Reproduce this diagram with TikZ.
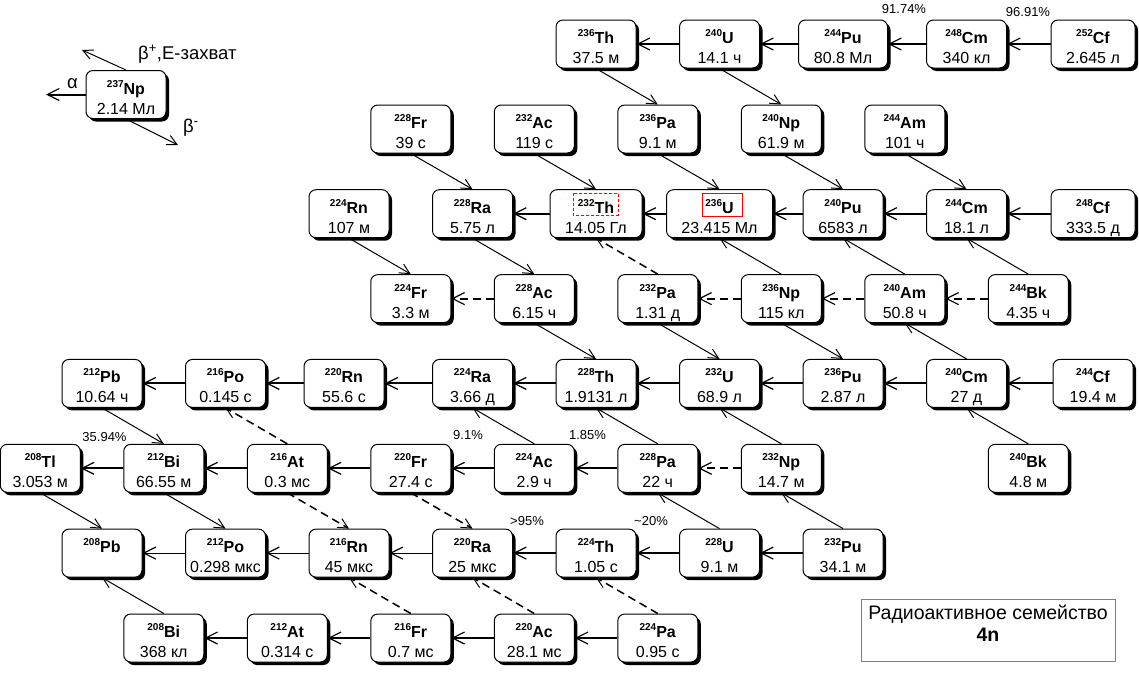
\documentclass[tikz,border=0pt]{standalone}
\usepackage{fontspec}
\setmainfont{Liberation Sans}
\usetikzlibrary{arrows.meta,shadows}

\newcommand{\twolines}[2]{\vtop{\halign{\hfil##\hfil\cr#1\cr#2\cr}}}
\newcommand{\nuc}[3]{\twolines{{\fontsize{10}{12}\selectfont\bfseries\raisebox{7pt}{#1}}\textbf{#2}}{#3}}

\tikzset{
  nucbox/.style={draw, line width=1pt, rounded corners=7pt, fill=white,
    minimum width=80pt, inner sep=0pt, text height=23.5pt, text depth=24.5pt,
    font=\fontsize{16}{20}\selectfont,
    drop shadow={shadow xshift=3pt, shadow yshift=-3pt, fill=black, opacity=1}},
  alphaarrow/.style={line width=2pt, -{Straight Barb[length=12pt, width=12pt, line width'=1.2pt]}},
  alphathin/.style={alphaarrow, line width=1.2pt},
  alphadashed/.style={alphaarrow, dash pattern=on 8pt off 5pt},
  betaarrow/.style={line width=1pt, -{Straight Barb[length=10pt, width=10pt, line width'=1pt]}},
  betadashed/.style={betaarrow, line width=1.5pt, dash pattern=on 8pt off 5pt},
  pct/.style={font=\fontsize{13}{15}\selectfont, inner sep=0pt},
  lbl/.style={font=\fontsize{18.5}{20}\selectfont, inner sep=0pt}
}

\begin{document}
\begin{tikzpicture}[x=1pt,y=-1pt]
   \useasboundingbox (0,0) rectangle (1139,673);
   % legend
   \node[nucbox] (np237) at (126,94.5) {\nuc{237}{Np}{2.14 Мл}};
   \coordinate (alphaend) at (46,94.5);
   \coordinate (bplusend) at (82,50);
   \coordinate (bminusend) at (178,145);
   \draw[alphaarrow] (np237.west) -- (alphaend);
   \draw[betaarrow] (np237.north) -- (bplusend);
   \draw[betaarrow] (np237.south) -- (bminusend);
   \node[lbl, anchor=base] (alphalbl) at (72.5,88) {α};
   \node[lbl, anchor=base west] (bpluslbl) at (138,59) {β\textsuperscript{+},Е-захват};
   \node[lbl, anchor=base west] (bminuslbl) at (183,132) {β\textsuperscript{-}};
   % row 0
   \node[nucbox] (th236) at (596,44) {\nuc{236}{Th}{37.5 м}};
   \node[nucbox] (u240) at (719.5,44) {\nuc{240}{U}{14.1 ч}};
   \node[nucbox, minimum width=89pt] (pu244) at (843,44) {\nuc{244}{Pu}{80.8 Мл}};
   \node[nucbox] (cm248) at (966.5,44) {\nuc{248}{Cm}{340 кл}};
   \node[nucbox, minimum width=84pt] (cf252) at (1093,44) {\nuc{252}{Cf}{2.645 л}};
   % row 1
   \node[nucbox] (fr228) at (410.75,129) {\nuc{228}{Fr}{39 с}};
   \node[nucbox] (ac232) at (534.25,129) {\nuc{232}{Ac}{119 с}};
   \node[nucbox] (pa236) at (657.75,129) {\nuc{236}{Pa}{9.1 м}};
   \node[nucbox] (np240) at (781.25,129) {\nuc{240}{Np}{61.9 м}};
   \node[nucbox] (am244) at (904.75,129) {\nuc{244}{Am}{101 ч}};
   % row 2
   \node[nucbox] (rn224) at (349,213.7) {\nuc{224}{Rn}{107 м}};
   \node[nucbox] (ra228) at (472.5,213.7) {\nuc{228}{Ra}{5.75 л}};
   \node[nucbox, minimum width=92pt] (th232) at (596,213.7) {\nuc{232}{Th}{14.05 Гл}};
   \node[nucbox, minimum width=106pt] (u236) at (719.5,213.7) {\nuc{236}{U}{23.415 Мл}};
   \node[nucbox] (pu240) at (843,213.7) {\nuc{240}{Pu}{6583 л}};
   \node[nucbox] (cm244) at (966.5,213.7) {\nuc{244}{Cm}{18.1 л}};
   \node[nucbox, minimum width=84pt] (cf248) at (1093,213.7) {\nuc{248}{Cf}{333.5 д}};
   % row 3
   \node[nucbox] (fr224) at (410.75,298.6) {\nuc{224}{Fr}{3.3 м}};
   \node[nucbox] (ac228) at (534.25,298.6) {\nuc{228}{Ac}{6.15 ч}};
   \node[nucbox] (pa232) at (657.75,298.6) {\nuc{232}{Pa}{1.31 д}};
   \node[nucbox] (np236) at (781.25,298.6) {\nuc{236}{Np}{115 кл}};
   \node[nucbox] (am240) at (904.75,298.6) {\nuc{240}{Am}{50.8 ч}};
   \node[nucbox] (bk244) at (1028.25,298.6) {\nuc{244}{Bk}{4.35 ч}};
   % row 4
   \node[nucbox] (pb212) at (102,383.4) {\nuc{212}{Pb}{10.64 ч}};
   \node[nucbox] (po216) at (225.5,383.4) {\nuc{216}{Po}{0.145 с}};
   \node[nucbox] (rn220) at (344,383.4) {\nuc{220}{Rn}{55.6 с}};
   \node[nucbox] (ra224) at (472.5,383.4) {\nuc{224}{Ra}{3.66 д}};
   \node[nucbox] (th228) at (596,383.4) {\nuc{228}{Th}{1.9131 л}};
   \node[nucbox] (u232) at (719.5,383.4) {\nuc{232}{U}{68.9 л}};
   \node[nucbox] (pu236) at (843,383.4) {\nuc{236}{Pu}{2.87 л}};
   \node[nucbox] (cm240) at (966.5,383.4) {\nuc{240}{Cm}{27 д}};
   \node[nucbox] (cf244) at (1093,383.4) {\nuc{244}{Cf}{19.4 м}};
   % row 5
   \node[nucbox] (tl208) at (40.25,468.3) {\nuc{208}{Tl}{3.053 м}};
   \node[nucbox] (bi212) at (163.75,468.3) {\nuc{212}{Bi}{66.55 м}};
   \node[nucbox] (at216) at (287.25,468.3) {\nuc{216}{At}{0.3 мс}};
   \node[nucbox] (fr220) at (410.75,468.3) {\nuc{220}{Fr}{27.4 с}};
   \node[nucbox] (ac224) at (534.25,468.3) {\nuc{224}{Ac}{2.9 ч}};
   \node[nucbox] (pa228) at (657.75,468.3) {\nuc{228}{Pa}{22 ч}};
   \node[nucbox] (np232) at (781.25,468.3) {\nuc{232}{Np}{14.7 м}};
   \node[nucbox] (bk240) at (1028.25,468.3) {\nuc{240}{Bk}{4.8 м}};
   % row 6
   \node[nucbox] (pb208) at (102,553.1) {\nuc{208}{Pb}{}};
   \node[nucbox] (po212) at (225.5,553.1) {\nuc{212}{Po}{0.298 мкс}};
   \node[nucbox] (rn216) at (349,553.1) {\nuc{216}{Rn}{45 мкс}};
   \node[nucbox] (ra220) at (472.5,553.1) {\nuc{220}{Ra}{25 мкс}};
   \node[nucbox] (th224) at (596,553.1) {\nuc{224}{Th}{1.05 с}};
   \node[nucbox] (u228) at (719.5,553.1) {\nuc{228}{U}{9.1 м}};
   \node[nucbox] (pu232) at (843,553.1) {\nuc{232}{Pu}{34.1 м}};
   % row 7
   \node[nucbox] (bi208) at (163.75,638) {\nuc{208}{Bi}{368 кл}};
   \node[nucbox] (at212) at (287.25,638) {\nuc{212}{At}{0.314 с}};
   \node[nucbox] (fr216) at (410.75,638) {\nuc{216}{Fr}{0.7 мс}};
   \node[nucbox] (ac220) at (534.25,638) {\nuc{220}{Ac}{28.1 мс}};
   \node[nucbox] (pa224) at (657.75,638) {\nuc{224}{Pa}{0.95 с}};
   % marked nuclides
   \draw[red, line width=1pt, dash pattern=on 3pt off 2pt] ([shift={(-23,-20.7)}]th232.center) rectangle ([shift={(22,1.3)}]th232.center);
   \draw[red, line width=1pt] ([shift={(-17.5,-20.7)}]u236.center) rectangle ([shift={(22.5,2.3)}]u236.center);
   % alpha decays
   \draw[alphaarrow] (u240) -- (th236);
   \draw[alphaarrow] (pu244) -- (u240);
   \draw[alphaarrow] (cm248) -- (pu244);
   \draw[alphaarrow] (cf252) -- (cm248);
   \draw[alphaarrow] (th232) -- (ra228);
   \draw[alphaarrow] (u236) -- (th232);
   \draw[alphaarrow] (pu240) -- (u236);
   \draw[alphaarrow] (cm244) -- (pu240);
   \draw[alphaarrow] (cf248) -- (cm244);
   \draw[alphadashed] (ac228) -- (fr224);
   \draw[alphadashed] (np236) -- (pa232);
   \draw[alphadashed] (am240) -- (np236);
   \draw[alphadashed] (bk244) -- (am240);
   \draw[alphaarrow] (po216) -- (pb212);
   \draw[alphaarrow] (rn220) -- (po216);
   \draw[alphaarrow] (ra224) -- (rn220);
   \draw[alphaarrow] (th228) -- (ra224);
   \draw[alphaarrow] (u232) -- (th228);
   \draw[alphaarrow] (pu236) -- (u232);
   \draw[alphaarrow] (cm240) -- (pu236);
   \draw[alphaarrow] (cf244) -- (cm240);
   \draw[alphaarrow] (bi212) -- (tl208);
   \draw[alphaarrow] (at216) -- (bi212);
   \draw[alphaarrow] (fr220) -- (at216);
   \draw[alphaarrow] (ac224) -- (fr220);
   \draw[alphaarrow] (pa228) -- (ac224);
   \draw[alphadashed] (np232) -- (pa228);
   \draw[alphathin] (po212) -- (pb208);
   \draw[alphathin] (rn216) -- (po212);
   \draw[alphathin] (ra220) -- (rn216);
   \draw[alphaarrow] (th224) -- (ra220);
   \draw[alphaarrow] (u228) -- (th224);
   \draw[alphaarrow] (pu232) -- (u228);
   \draw[alphaarrow] (at212) -- (bi208);
   \draw[alphaarrow] (fr216) -- (at212);
   \draw[alphaarrow] (ac220) -- (fr216);
   \draw[alphaarrow] (pa224) -- (ac220);
   % beta- decays
   \draw[betaarrow] (th236.south) -- (pa236.north);
   \draw[betaarrow] (u240.south) -- (np240.north);
   \draw[betaarrow] (fr228.south) -- (ra228.north);
   \draw[betaarrow] (ac232.south) -- (th232.north);
   \draw[betaarrow] (pa236.south) -- (u236.north);
   \draw[betaarrow] (np240.south) -- (pu240.north);
   \draw[betaarrow] (am244.south) -- (cm244.north);
   \draw[betaarrow] (rn224.south) -- (fr224.north);
   \draw[betaarrow] (ra228.south) -- (ac228.north);
   \draw[betaarrow] (ac228.south) -- (th228.north);
   \draw[betaarrow] (pa232.south) -- (u232.north);
   \draw[betaarrow] (np236.south) -- (pu236.north);
   \draw[betaarrow] (pb212.south) -- (bi212.north);
   \draw[betaarrow] (tl208.south) -- (pb208.north);
   \draw[betaarrow] (bi212.south) -- (po212.north);
   \draw[betadashed] (at216.south) -- (rn216.north);
   \draw[betadashed] (fr220.south) -- (ra220.north);
   % beta+ and electron capture
   \draw[betaarrow] (np236.north) -- (u236.south);
   \draw[betaarrow] (am240.north) -- (pu240.south);
   \draw[betaarrow] (bk244.north) -- (cm244.south);
   \draw[betaarrow] (cm240.north) -- (am240.south);
   \draw[betaarrow] (ac224.north) -- (ra224.south);
   \draw[betaarrow] (pa228.north) -- (th228.south);
   \draw[betaarrow] (np232.north) -- (u232.south);
   \draw[betaarrow] (bk240.north) -- (cm240.south);
   \draw[betaarrow] (u228.north) -- (pa228.south);
   \draw[betaarrow] (pu232.north) -- (np232.south);
   \draw[betaarrow] (bi208.north) -- (pb208.south);
   \draw[betadashed] (pa232.north) -- (th232.south);
   \draw[betadashed] (at216.north) -- (po216.south);
   \draw[betadashed] (ac220.north) -- (ra220.south);
   \draw[betadashed] (pa224.north) -- (th224.south);
   \draw[betadashed] (fr216.north) -- (rn216.south);
   % branching ratios
   \node[pct] (pcm) at (904,9) {91.74\%};
   \node[pct] (pcf) at (1028,12.5) {96.91\%};
   \node[pct] (pbi) at (104.5,437.5) {35.94\%};
   \node[pct] (pac) at (468,435.5) {9.1\%};
   \node[pct] (ppa) at (587.5,435.5) {1.85\%};
   \node[pct] (pra) at (527,521) {>95\%};
   \node[pct] (pth) at (651,521) {\textasciitilde20\%};
   % family label
   \node[draw=gray, line width=1pt, minimum width=254pt, inner sep=0pt, text height=20pt, text depth=42pt,
     font=\fontsize{19.5}{22}\selectfont] (family) at (988,630) {\twolines{Радиоактивное семейство}{\textbf{4n}}};
\end{tikzpicture}
\end{document}
